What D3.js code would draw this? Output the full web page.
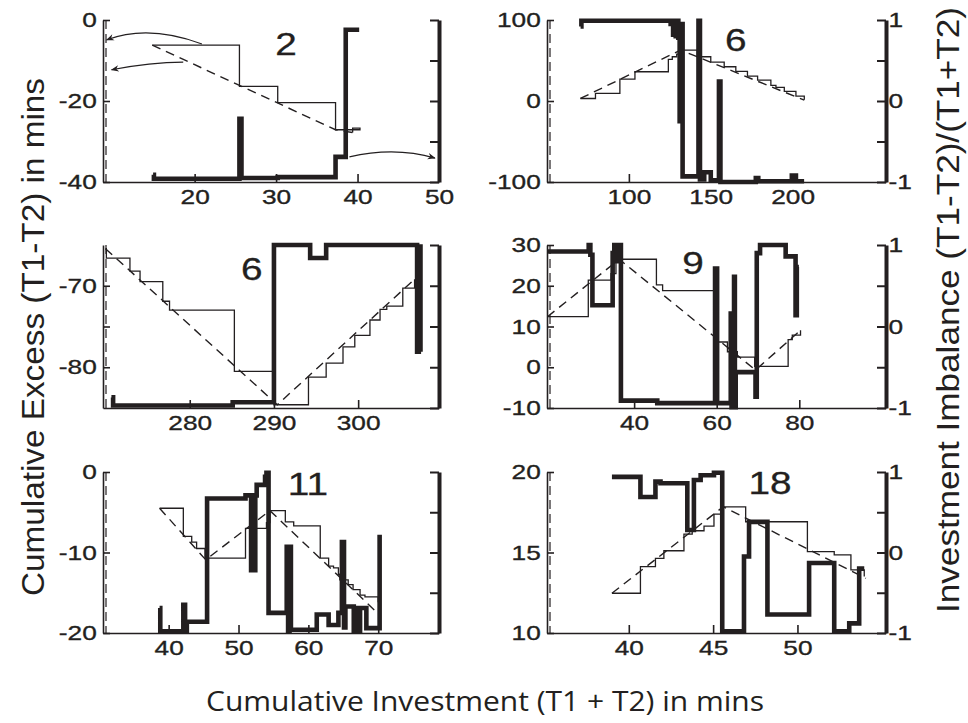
<!DOCTYPE html>
<html>
<head>
<meta charset="utf-8">
<script src="https://cdn.jsdelivr.net/npm/d3@7"></script>
<style>
  html, body { margin: 0; padding: 0; background: #fff; }
  svg { display: block; }
</style>
</head>
<body>
<svg id="chart" width="968" height="723"></svg>
<script>
// Six panels: cumulative excess (thin step + dashed trend, left axis)
// and investment imbalance (thick step, right axis) vs cumulative investment

const ink = "#231f20";
const FONT = "'Liberation Sans', Arial, Helvetica, sans-serif";

const panelTitles = ["2", "6", "6", "9", "11", "18"];
const imbalanceTicks = [-1, -0.5, 0, 0.5, 1];

// panel 1
const p1XDomain = [8.75, 50], p1YDomain = [-40, 0];
const p1XTicks = [20, 30, 40, 50], p1YTicks = [0, -20, -40];
const p1Excess = [[14.8,-6.2],[25.5,-16.4],[30.2,-20.4],[37.3,-27.1],[40.3,-26.7],[39.4,-27.8]];
const p1Trend = [[14.8,-6.2],[37.3,-27.1],[39.4,-27.8]];
const p1Imbalance = [[14.9,-0.91],[15.0,-0.96],[25.5,-0.22],[25.75,-0.95],[30.2,-0.94],[37.3,-0.69],[38.55,0.88],[40.2,0.88]];
const p1Arrows = [
  [[20.9,-5.9],[14.3,-1.0],[9.2,-4.9]],
  [[18.6,-10.4],[14.6,-10.4],[9.8,-12.3]],
  [[39.0,-33.8],[44.6,-31.2],[49.5,-34.1]]
];

// panel 2
const p2XDomain = [50, 257], p2YDomain = [-100, 100];
const p2XTicks = [100, 150, 200], p2YTicks = [100, 0, -100];
const p2Excess = [[70.4,3.1],[79.6,9.3],[94.5,27.0],[103.7,36.1],[124.1,51.3],[126.5,54.6],[129.2,57.9],[131.6,62.9],
  [141.8,54.6],[150.0,48.0],[158.2,42.3],[165.3,36.5],[172.4,30.7],[178.6,25.8],[186.7,19.2],[189.8,16.7],
  [194.9,11.8],[202.0,6.0],[207.1,1.5]];
const p2Trend = [[70.4,3.1],[131.6,62.9],[207.1,1.0]];
const p2Imbalance = [[70.5,0.92],[71.0,0.99],[125.5,0.95],[126.2,0.99],[127.0,0.82],[127.8,0.99],[128.6,0.80],[129.4,0.99],
  [130.2,0.78],[131.0,-0.25],[131.6,0.95],[132.8,-0.93],[142.5,0.99],[143.4,-0.97],[146.0,-0.88],[150.0,-0.98],
  [155.0,0.24],[155.9,-1.0],[177.5,-0.95],[179.0,-0.99],[199.5,-0.92],[202.0,-0.99],[207.0,-0.99]];

// panel 3
const p3XDomain = [269.7, 309.6], p3YDomain = [-85, -65];
const p3XTicks = [280, 290, 300], p3YTicks = [-70, -75, -80], p3YLabels = [-70, -80];
const p3Excess = [[270.0,-65.45],[270.1,-66.6],[272.9,-68.2],[274.1,-69.5],[276.8,-71.9],[277.6,-73.0],[285.3,-80.5],
  [290.0,-84.6],[294.1,-81.2],[296.2,-79.5],[298.2,-77.5],[299.6,-76.1],[301.4,-74.2],[302.6,-72.9],[303.4,-72.5],
  [305.3,-70.3],[306.7,-69.2]];
const p3Trend = [[270.0,-65.45],[290.4,-84.6],[306.7,-69.2]];
const p3Imbalance = [[270.7,-0.87],[270.9,-0.97],[285.1,-0.93],[290.0,1.0],[294.3,0.84],[296.2,1.0],[307.0,-0.31],[307.2,0.98],[307.4,-0.31]];

// panel 4
const p4XDomain = [18.9, 101], p4YDomain = [-10, 30];
const p4XTicks = [40, 60, 80], p4YTicks = [30, 20, 10, 0, -10];
const p4Excess = [[19.0,12.4],[28.9,21.4],[34.4,23.0],[35.6,25.9],[36.4,26.5],[45.4,20.2],[46.9,18.8],[59.8,6.2],
  [62.6,3.8],[65.0,2.5],[69.2,0.2],[77.3,6.8],[78.3,7.9],[80.3,9.1]];
const p4Trend = [[19.0,12.4],[36.4,26.5],[69.4,-0.7],[80.3,9.1]];
const p4Imbalance = [[19.0,0.92],[29.0,1.0],[29.4,0.88],[29.9,0.26],[34.8,0.90],[35.2,1.0],[35.8,0.80],[36.2,1.0],
  [36.8,-0.91],[45.6,-0.94],[59.6,0.71],[60.1,-0.94],[63.4,0.16],[63.6,-0.99],[64.2,0.61],[64.4,-0.99],[64.6,-0.56],
  [69.4,-0.86],[69.7,0.90],[70.5,1.0],[76.7,0.86],[79.1,0.14],[79.4,0.73],[79.9,0.73]];

// panel 5
const p5XDomain = [30.6, 78.7], p5YDomain = [-20, 0];
const p5XTicks = [40, 50, 60, 70], p5YTicks = [0, -10, -20];
const p5Excess = [[38.7,-4.5],[42.1,-8.0],[43.3,-8.7],[44.0,-9.5],[45.2,-10.7],[51.0,-7.0],[54.0,-6.3],[54.5,-4.8],
  [56.7,-6.2],[57.9,-6.7],[61.7,-10.7],[62.9,-11.7],[63.6,-11.9],[64.3,-12.7],[64.5,-13.4],[65.7,-14.0],[66.4,-14.6],
  [67.4,-15.3],[68.1,-15.5],[70.0,-16.1],[70.1,-17.6]];
const p5Trend = [[38.7,-4.5],[45.3,-10.9],[54.5,-4.8],[70.0,-17.6]];
const p5Imbalance = [[38.7,-0.69],[38.8,-0.98],[42.1,-0.65],[42.35,-0.98],[42.6,-0.86],[45.5,0.67],[51.0,0.71],
  [51.8,-0.22],[52.0,0.71],[52.2,-0.22],[52.4,0.71],[52.6,0.84],[53.8,0.94],[54.0,0.99],[54.3,-0.75],[56.9,0.07],
  [57.1,-0.98],[57.3,0.07],[57.5,-0.96],[61.2,-0.77],[62.9,-0.90],[64.3,-0.75],[64.8,0.13],[65.1,-0.93],[65.3,-0.67],
  [66.5,-0.98],[66.8,-0.69],[67.1,-0.98],[67.4,-0.69],[68.3,-0.94],[70.2,0.22]];

// panel 6
const p6XDomain = [35.15, 55.25], p6YDomain = [10, 20];
const p6XTicks = [40, 45, 50], p6YTicks = [20, 15, 10];
const p6Excess = [[39.0,12.47],[40.69,14.12],[41.58,14.64],[42.08,15.11],[43.27,16.14],[43.76,16.35],[44.46,16.64],
  [45.05,17.38],[45.6,17.84],[46.93,16.91],[50.59,15.05],[52.18,14.85],[53.17,13.92],[53.96,13.51]];
const p6Trend = [[39.0,12.47],[45.6,17.84],[54.06,13.4]];
const p6Imbalance = [[39.0,0.94],[40.69,0.69],[41.58,0.88],[41.88,0.86],[43.47,0.28],[43.86,0.90],[44.26,0.96],
  [45.05,0.99],[45.54,-0.98],[46.83,-0.05],[47.13,0.38],[48.22,-0.77],[50.69,-0.13],[52.18,-0.98],[53.07,-0.88],
  [53.66,-0.20],[53.96,-0.20]];

// layout of the grid (page pixels)
const colLeft = [103, 547], colWidth = [336, 339];
const rowTop = [20, 245, 472], rowHeight = [162, 163, 161];

const panels = [
  { col: 0, row: 0, title: panelTitles[0], titleAt: [0.545, 0.15], xDomain: p1XDomain, yDomain: p1YDomain, xTicks: p1XTicks, yTicks: p1YTicks, excess: p1Excess, trend: p1Trend, imbalance: p1Imbalance, arrows: p1Arrows },
  { col: 1, row: 0, title: panelTitles[1], titleAt: [0.557, 0.125], xDomain: p2XDomain, yDomain: p2YDomain, xTicks: p2XTicks, yTicks: p2YTicks, excess: p2Excess, trend: p2Trend, imbalance: p2Imbalance },
  { col: 0, row: 1, title: panelTitles[2], titleAt: [0.443, 0.15], xDomain: p3XDomain, yDomain: p3YDomain, xTicks: p3XTicks, yTicks: p3YTicks, yLabels: p3YLabels, excess: p3Excess, trend: p3Trend, imbalance: p3Imbalance },
  { col: 1, row: 1, title: panelTitles[3], titleAt: [0.431, 0.11], xDomain: p4XDomain, yDomain: p4YDomain, xTicks: p4XTicks, yTicks: p4YTicks, excess: p4Excess, trend: p4Trend, imbalance: p4Imbalance },
  { col: 0, row: 2, title: panelTitles[4], titleAt: [0.61, 0.075], xDomain: p5XDomain, yDomain: p5YDomain, xTicks: p5XTicks, yTicks: p5YTicks, excess: p5Excess, trend: p5Trend, imbalance: p5Imbalance },
  { col: 1, row: 2, title: panelTitles[5], titleAt: [0.658, 0.065], xDomain: p6XDomain, yDomain: p6YDomain, xTicks: p6XTicks, yTicks: p6YTicks, excess: p6Excess, trend: p6Trend, imbalance: p6Imbalance }
];

const svg = d3.select("#chart");

svg.append("defs").append("marker")
  .attr("id", "arrowhead")
  .attr("viewBox", "0 0 10 10")
  .attr("refX", 9).attr("refY", 5)
  .attr("markerWidth", 9).attr("markerHeight", 8)
  .attr("markerUnits", "userSpaceOnUse")
  .attr("orient", "auto")
  .append("path")
  .attr("d", "M0,1 L10,5 L0,9 L3,5 z")
  .attr("fill", ink);

function styleAxis(ax, domainWidth, tickWidth) {
  ax.attr("font-family", null).attr("font-size", null).attr("color", ink);
  ax.select(".domain").attr("stroke-width", domainWidth);
  ax.selectAll(".tick line").attr("stroke-width", tickWidth);
  ax.selectAll(".tick text")
    .attr("font-family", FONT)
    .attr("font-size", 21)
    .attr("stroke", ink)
    .attr("stroke-width", 0.35)
    .attr("transform", "scale(1.25,1)");
}

panels.forEach(p => {
  const left = colLeft[p.col], top = rowTop[p.row];
  const w = colWidth[p.col], h = rowHeight[p.row];

  const x = d3.scaleLinear().domain(p.xDomain).range([left, left + w]);
  const y = d3.scaleLinear().domain(p.yDomain).range([top + h, top]);
  const r = d3.scaleLinear().domain([-1, 1]).range([top + h, top]);

  const g = svg.append("g");

  // axes
  const gx = g.append("g")
    .attr("transform", `translate(0,${top + h})`)
    .call(d3.axisBottom(x).tickValues(p.xTicks).tickSizeInner(-8).tickSizeOuter(0)
      .tickPadding(7).tickFormat(d => String(d)));
  styleAxis(gx, 1.6, 1.6);

  const labels = p.yLabels || p.yTicks;
  const gy = g.append("g")
    .attr("transform", `translate(${left},0)`)
    .call(d3.axisLeft(y).tickValues(p.yTicks).tickSizeInner(-7).tickSizeOuter(0)
      .tickPadding(5).tickFormat(d => labels.includes(d) ? String(d) : ""));
  styleAxis(gy, 1.6, 1.6);

  const gr = g.append("g")
    .attr("transform", `translate(${left + w},0)`)
    .call(d3.axisRight(r).tickValues(imbalanceTicks).tickSizeInner(-9).tickSizeOuter(0)
      .tickPadding(2).tickFormat(d => (p.col === 1 && d !== 0.5 && d !== -0.5) ? String(d) : ""));
  styleAxis(gr, 4, 2);

  // dashed guide next to left axis
  g.append("line")
    .attr("x1", left + 3).attr("x2", left + 3)
    .attr("y1", top).attr("y2", top + h)
    .attr("stroke", ink).attr("stroke-width", 1.2)
    .attr("stroke-dasharray", "9,5");

  // cumulative excess: thin step line
  g.append("path")
    .datum(p.excess)
    .attr("d", d3.line().x(d => x(d[0])).y(d => y(d[1])).curve(d3.curveStepAfter))
    .attr("fill", "none")
    .attr("stroke", ink)
    .attr("stroke-width", 1.3);

  // dashed trend
  g.append("path")
    .datum(p.trend)
    .attr("d", d3.line().x(d => x(d[0])).y(d => y(d[1])))
    .attr("fill", "none")
    .attr("stroke", ink)
    .attr("stroke-width", 1.4)
    .attr("stroke-dasharray", "9,6");

  // imbalance: thick step line on right axis
  g.append("path")
    .datum(p.imbalance)
    .attr("d", d3.line().x(d => x(d[0])).y(d => r(d[1])).curve(d3.curveStepAfter))
    .attr("fill", "none")
    .attr("stroke", ink)
    .attr("stroke-width", 4.6)
    .attr("stroke-linejoin", "miter");

  // curved arrows pointing to the axes (panel 1)
  if (p.arrows) {
    g.selectAll(".arrow")
      .data(p.arrows)
      .join("path")
      .attr("class", "arrow")
      .attr("d", a => `M${x(a[0][0])},${y(a[0][1])} Q${x(a[1][0])},${y(a[1][1])} ${x(a[2][0])},${y(a[2][1])}`)
      .attr("fill", "none")
      .attr("stroke", ink)
      .attr("stroke-width", 1.1)
      .attr("marker-end", "url(#arrowhead)");
  }

  // panel number
  g.append("text")
    .attr("transform", `translate(${left + p.titleAt[0] * w},${top + p.titleAt[1] * h}) scale(1.25,1)`)
    .attr("text-anchor", "middle")
    .attr("dominant-baseline", "central")
    .attr("font-family", FONT)
    .attr("font-size", 31)
    .attr("stroke", ink)
    .attr("stroke-width", 0.3)
    .attr("fill", ink)
    .text(p.title);
});

// axis titles
svg.append("text")
  .attr("transform", "translate(44,337) rotate(-90)")
  .attr("text-anchor", "middle")
  .attr("font-family", FONT)
  .attr("font-size", 31)
  .attr("textLength", 518)
  .attr("lengthAdjust", "spacingAndGlyphs")
  .attr("fill", ink)
  .text("Cumulative Excess (T1-T2) in mins");

svg.append("text")
  .attr("transform", "translate(959,310) rotate(-90)")
  .attr("text-anchor", "middle")
  .attr("font-family", FONT)
  .attr("font-size", 31)
  .attr("textLength", 606)
  .attr("lengthAdjust", "spacingAndGlyphs")
  .attr("fill", ink)
  .text("Investment Imbalance (T1-T2)/(T1+T2)");

svg.append("text")
  .attr("x", 485).attr("y", 711)
  .attr("text-anchor", "middle")
  .attr("font-family", "'Open Sans', 'Noto Sans', sans-serif")
  .attr("font-size", 28)
  .attr("textLength", 558)
  .attr("lengthAdjust", "spacingAndGlyphs")
  .attr("fill", ink)
  .text("Cumulative Investment (T1 + T2) in mins");
</script>
</body>
</html>
